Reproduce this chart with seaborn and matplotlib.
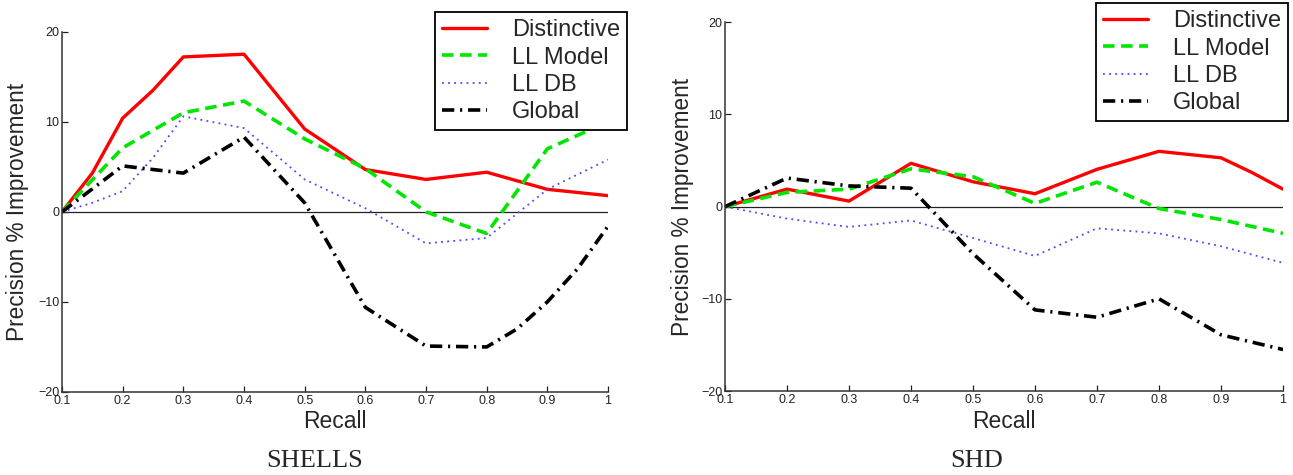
import matplotlib
matplotlib.use("Agg")
import matplotlib.pyplot as plt
import seaborn as sns
import pandas as pd

# ---------------- data ----------------
series_names = ["Distinctive", "LL Model", "LL DB", "Global"]
x_ticks = [0.1, 0.2, 0.3, 0.4, 0.5, 0.6, 0.7, 0.8, 0.9, 1.0]
x_tick_labels = ["0.1", "0.2", "0.3", "0.4", "0.5", "0.6", "0.7", "0.8", "0.9", "1"]
y_ticks = [-20, -10, 0, 10, 20]
y_tick_labels = ["\u221220", "\u221210", "0", "10", "20"]

# SHELLS panel
shells_dist_x = [0.1, 0.15, 0.2, 0.25, 0.3, 0.4, 0.5, 0.6, 0.7, 0.8, 0.9, 1.0]
shells_dist_y = [0, 4.3, 10.4, 13.5, 17.2, 17.5, 9.2, 4.7, 3.6, 4.4, 2.5, 1.8]
shells_llm_x = [0.1, 0.2, 0.3, 0.4, 0.5, 0.6, 0.7, 0.8, 0.9, 1.0]
shells_llm_y = [0, 7.1, 11.0, 12.3, 8.1, 4.8, 0.0, -2.4, 7.0, 10.0]
shells_lldb_x = [0.1, 0.15, 0.2, 0.25, 0.3, 0.4, 0.5, 0.6, 0.7, 0.8, 0.9, 1.0]
shells_lldb_y = [0, 1.0, 2.3, 6.0, 10.6, 9.3, 3.6, 0.4, -3.5, -2.9, 2.5, 5.8]
shells_glob_x = [0.1, 0.2, 0.3, 0.4, 0.5, 0.6, 0.7, 0.8, 0.85, 0.9, 0.95, 1.0]
shells_glob_y = [0, 5.1, 4.3, 8.3, 1.0, -10.6, -14.9, -15.0, -13.0, -10.0, -6.3, -1.6]

# SHD panel
shd_dist_x = [0.1, 0.2, 0.3, 0.4, 0.5, 0.6, 0.7, 0.8, 0.9, 0.95, 1.0]
shd_dist_y = [0, 1.9, 0.6, 4.7, 2.7, 1.4, 4.05, 6.0, 5.3, 3.7, 1.9]
shd_llm_x = [0.1, 0.2, 0.3, 0.4, 0.5, 0.6, 0.7, 0.8, 0.9, 1.0]
shd_llm_y = [0, 1.55, 1.9, 4.1, 3.25, 0.35, 2.65, -0.2, -1.4, -2.9]
shd_lldb_x = [0.1, 0.2, 0.3, 0.4, 0.5, 0.6, 0.7, 0.8, 0.9, 1.0]
shd_lldb_y = [0, -1.3, -2.2, -1.5, -3.4, -5.35, -2.35, -2.9, -4.3, -6.1]
shd_glob_x = [0.1, 0.2, 0.3, 0.4, 0.5, 0.6, 0.7, 0.8, 0.9, 1.0]
shd_glob_y = [0, 3.1, 2.25, 2.0, -5.1, -11.2, -12.0, -10.0, -13.9, -15.5]

panels = [
    ("SHELLS", [(shells_dist_x, shells_dist_y), (shells_llm_x, shells_llm_y),
                (shells_lldb_x, shells_lldb_y), (shells_glob_x, shells_glob_y)]),
    ("SHD", [(shd_dist_x, shd_dist_y), (shd_llm_x, shd_llm_y),
             (shd_lldb_x, shd_lldb_y), (shd_glob_x, shd_glob_y)]),
]

# ---------------- styles ----------------
styles = {
    "Distinctive": dict(color="#ff0000", lw=2.4, ls="-"),
    "LL Model": dict(color="#00e600", lw=2.6, ls=(0, (3.2, 1.8))),
    "LL DB": dict(color="#4848ff", lw=1.3, ls=(0, (1, 2.4))),
    "Global": dict(color="#000000", lw=2.6, ls=(0, (3.4, 1.6, 0.6, 1.6))),
}

sns.set_style("ticks")
plt.rcParams["font.family"] = ["Liberation Sans", "DejaVu Sans"]
plt.rcParams["xtick.direction"] = "in"
plt.rcParams["ytick.direction"] = "in"

W, H = 1293, 475
fig = plt.figure(figsize=(W / 100, H / 100), dpi=100)

axes_px = [(62, 608, 31.7, 392), (725, 1283, 22.3, 391)]
legend_px = [(627, 12), (1288, 3)]
title_px = [(315, 461), (977, 461)]
ylabel_px = [18, 682]
xlabel_y = 422

for i, (title, data) in enumerate(panels):
    x0, x1, yt, yb = axes_px[i]
    ax = fig.add_axes([x0 / W, 1 - yb / H, (x1 - x0) / W, (yb - yt) / H])
    for name, (xs, ys) in zip(series_names, data):
        df = pd.DataFrame({"Recall": xs, "val": ys})
        st = styles[name]
        sns.lineplot(data=df, x="Recall", y="val", ax=ax, color=st["color"],
                     linewidth=st["lw"], linestyle=st["ls"], label=name,
                     estimator=None, sort=False)
    ax.axhline(0, color="#222222", lw=0.9, zorder=0)
    ax.set_xlim(0.1, 1.0)
    ax.set_ylim(-20, 20)
    ax.set_xticks(x_ticks)
    ax.set_xticklabels(x_tick_labels)
    ax.set_yticks(y_ticks)
    ax.set_yticklabels(y_tick_labels)
    ax.tick_params(labelsize=9, length=4, width=0.9, colors="#222222", pad=2)
    for s in ["top", "right"]:
        ax.spines[s].set_visible(False)
    for s in ["left", "bottom"]:
        ax.spines[s].set_color("#333333")
        ax.spines[s].set_linewidth(1.1)
    ax.set_xlabel("")
    ax.set_ylabel("")
    fig.text(((x0 + x1) / 2) / W, 1 - xlabel_y / H, "Recall", fontsize=16.5,
             ha="center", va="center")
    fig.text(ylabel_px[i] / W, 1 - ((yt + yb) / 2) / H, "Precision % Improvement",
             rotation=90, fontsize=16.3, ha="center", va="center")
    lx, ly = legend_px[i]
    leg = ax.legend(loc="upper right", bbox_to_anchor=(lx / W, 1 - ly / H),
                    bbox_transform=fig.transFigure, fontsize=17, frameon=True,
                    fancybox=False, framealpha=1, edgecolor="black",
                    handlelength=1.9, handletextpad=1.05, labelspacing=0.23,
                    borderpad=0.3, borderaxespad=0)
    leg.get_frame().set_linewidth(1.3)
    tx, ty = title_px[i]
    fig.text(tx / W, 1 - ty / H, title, fontsize=19, ha="center", va="center",
             family=["Liberation Serif", "DejaVu Serif"])

fig.savefig("out.png", dpi=100)
